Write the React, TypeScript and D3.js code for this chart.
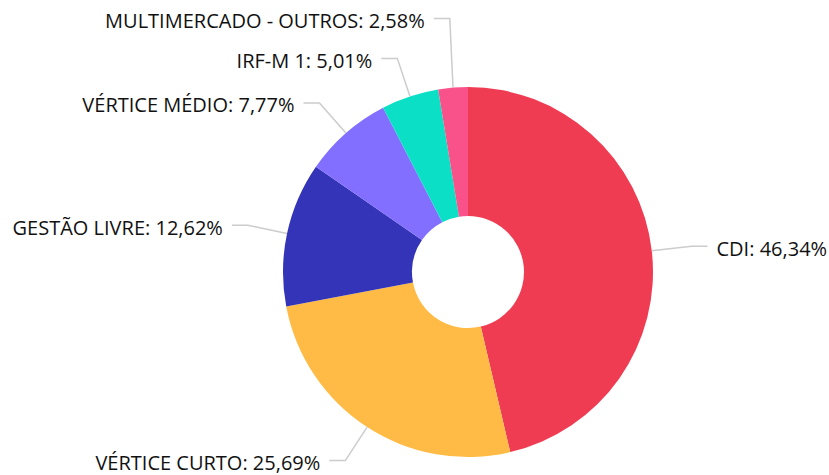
import React from "react";
import * as d3 from "d3";

const categories = [
  "CDI",
  "VÉRTICE CURTO",
  "GESTÃO LIVRE",
  "VÉRTICE MÉDIO",
  "IRF-M 1",
  "MULTIMERCADO - OUTROS",
];
const values = [46.34, 25.69, 12.62, 7.77, 5.01, 2.58];
const valueLabels = ["46,34%", "25,69%", "12,62%", "7,77%", "5,01%", "2,58%"];
const colors = ["#EF3C53", "#FFBB45", "#3434B8", "#826FFF", "#0BE0C6", "#F9528B"];

const W = 829;
const H = 475;
const CX = 468;
const CY = 272;
const R_OUT = 185;
const R_IN = 56;
const SEG1 = 40;
const SEG2 = 16;
const GAP = 9;
const MIN_SPACING = 40;

export default function App() {
  const pie = d3
    .pie<number>()
    .sort(null)
    .value((d) => d)
    .startAngle(0)
    .endAngle(2 * Math.PI);
  const arcs = pie(values);
  const arcGen = d3.arc<d3.PieArcDatum<number>>().innerRadius(R_IN).outerRadius(R_OUT);

  const labels = arcs.map((a, i) => {
    const mid = (a.startAngle + a.endAngle) / 2;
    const sx = Math.sin(mid);
    const sy = -Math.cos(mid);
    const ex = CX + R_OUT * sx;
    const ey = CY + R_OUT * sy;
    const bx = CX + (R_OUT + SEG1) * sx;
    const by = CY + (R_OUT + SEG1) * sy;
    const side = sx >= 0 ? 1 : -1;
    return { i, ex, ey, bx, by, side };
  });

  // overlap resolution per side: push labels upward
  [1, -1].forEach((side) => {
    const group = labels.filter((l) => l.side === side).sort((a, b) => b.by - a.by);
    for (let k = 1; k < group.length; k++) {
      const prev = group[k - 1];
      const cur = group[k];
      if (prev.by - cur.by < MIN_SPACING) cur.by = prev.by - MIN_SPACING;
    }
  });

  return (
    <div style={{ position: "absolute", left: 0, top: 0, width: W, height: H, background: "#fff" }}>
      <svg width={W} height={H} style={{ display: "block" }}>
        <g transform={`translate(${CX},${CY})`}>
          {arcs.map((a, i) => (
            <path key={i} d={arcGen(a) || ""} fill={colors[i]} />
          ))}
        </g>
        {labels.map((l) => {
          const hx = l.bx + l.side * SEG2;
          return (
            <g key={l.i}>
              <polyline
                points={`${l.ex},${l.ey} ${l.bx},${l.by} ${hx},${l.by}`}
                fill="none"
                stroke="#cccccc"
                strokeWidth={1.5}
              />
              <text
                x={hx + l.side * GAP}
                y={l.by + 2}
                textAnchor={l.side > 0 ? "start" : "end"}
                dominantBaseline="central"
                fontFamily="'Open Sans', sans-serif"
                fontSize={20}
                fill="#111"
              >
                {`${categories[l.i]}: ${valueLabels[l.i]}`}
              </text>
            </g>
          );
        })}
      </svg>
    </div>
  );
}
